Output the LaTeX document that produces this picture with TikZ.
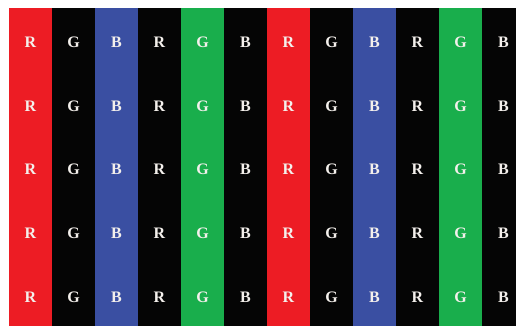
\documentclass[tikz,border=0pt]{standalone}
\usepackage{fontspec}
\setmainfont{Liberation Serif}
\definecolor{stR}{HTML}{ED1C24}
\definecolor{stG}{HTML}{19AE4C}
\definecolor{stB}{HTML}{3A4FA2}
\definecolor{stK}{HTML}{050505}
\definecolor{txt}{HTML}{F4F0EC}
\tikzset{
  stripe/.style={fill=#1, draw=none},
  lbl/.style={text=txt, font=\bfseries\fontsize{16}{16}\selectfont, inner sep=0pt, anchor=center}
}
\begin{document}
\begin{tikzpicture}[x=1pt,y=-1pt]
\useasboundingbox[fill=white] (0,0) rectangle (516,327);
\begin{scope}
\clip (0,0) rectangle (516,327);
\foreach \c [count=\i from 0] in {stR,stK,stB,stK,stG,stK,stR,stK,stB,stK,stG,stK}{
  \fill[stripe=\c] ({9+43*\i},8) rectangle ({9+43*(\i+1)},326);
}
\end{scope}
\foreach \L [count=\i from 0] in {R,G,B,R,G,B,R,G,B,R,G,B}{
  \foreach \y [count=\j] in {42,106,169,233,297}{
    \node[lbl] (l\i-\j) at ({30.5+43*\i},\y) {\L};
  }
}
\end{tikzpicture}
\end{document}
